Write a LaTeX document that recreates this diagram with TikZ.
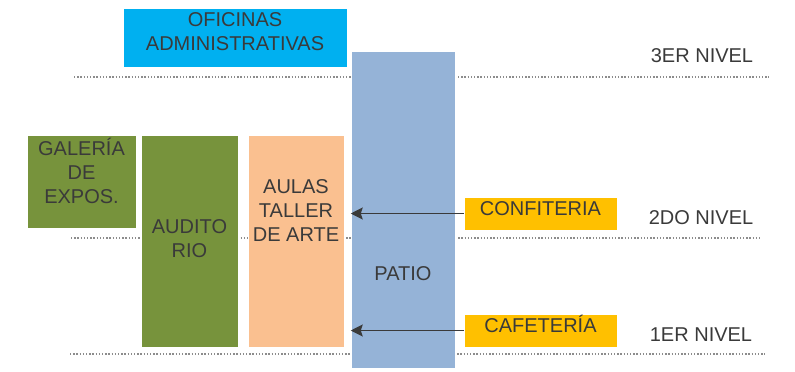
\documentclass[tikz,border=0pt]{standalone}
\usepackage{fontspec}
\setmainfont{Liberation Sans}
\usepackage{tikz}
\usetikzlibrary{arrows.meta}
\definecolor{cyanbox}{RGB}{0,176,240}
\definecolor{patioblue}{RGB}{149,179,215}
\definecolor{olive}{RGB}{119,147,60}
\definecolor{peach}{RGB}{250,192,144}
\definecolor{amber}{RGB}{255,192,0}
\definecolor{ink}{RGB}{58,58,58}
\definecolor{dotgray}{RGB}{140,140,140}
\begin{document}
\begin{tikzpicture}[x=1pt,y=-1pt,
          box/.style={draw=white,line width=0.5pt,inner sep=0pt},
          txt/.style={text=ink,align=center,inner sep=0pt,
                      font=\fontsize{20}{24}\selectfont},
          lvl/.style={dash pattern=on 1.4pt off 1.8pt,line width=1.4pt,dotgray},
          arr/.style={-{Stealth[length=12pt,width=12pt,inset=2pt]},
                      line width=1.4pt,ink}]
        \useasboundingbox (0,0) rectangle (795,372);
        % niveles
        \draw[lvl] (74,77) -- (769,77);
        \draw[lvl] (71,238) -- (760,238);
        \draw[lvl] (70,354) -- (765,354);
        \node[txt] (n3) at (702,56) {3ER NIVEL};
        \node[txt] (n2) at (701,218) {2DO NIVEL};
        \node[txt] (n1) at (701,335) {1ER NIVEL};
        % bloques
        \node[box,fill=cyanbox,minimum width=224pt,minimum height=59pt,
          label={[txt,yshift=6pt]center:OFICINAS\\ADMINISTRATIVAS}]
          (ofic) at (235,37.5) {};
        \node[box,fill=patioblue,minimum width=104pt,minimum height=317pt,
          label={[txt,yshift=-64.5pt]center:PATIO}]
          (patio) at (403,209.5) {};
        \node[box,fill=olive,minimum width=109pt,minimum height=93pt,
          label={[txt,yshift=11pt]center:GALERÍA\\DE\\EXPOS.}]
          (gal) at (81.5,181.5) {};
        \node[box,fill=olive,minimum width=97pt,minimum height=212pt,
          label={[txt,yshift=2.5pt]center:AUDITO\\RIO}]
          (aud) at (189.5,241) {};
        \node[box,fill=peach,minimum width=96pt,minimum height=212pt,
          label={[txt,yshift=30pt]center:AULAS\\TALLER\\DE ARTE}]
          (aulas) at (296,241) {};
        \node[box,fill=amber,minimum width=153pt,minimum height=33pt,
          label={[txt,yshift=4.5pt]center:CONFITERIA}]
          (conf) at (540.5,213.5) {};
        \node[box,fill=amber,minimum width=153pt,minimum height=33pt,
          label={[txt,yshift=6.5pt]center:CAFETERÍA}]
          (cafe) at (540.5,330.5) {};
        % accesos
        \draw[arr] (conf.west) -- (conf.west -| patio.west);
        \draw[arr] (cafe.west) -- (cafe.west -| patio.west);
      \end{tikzpicture}
\end{document}
